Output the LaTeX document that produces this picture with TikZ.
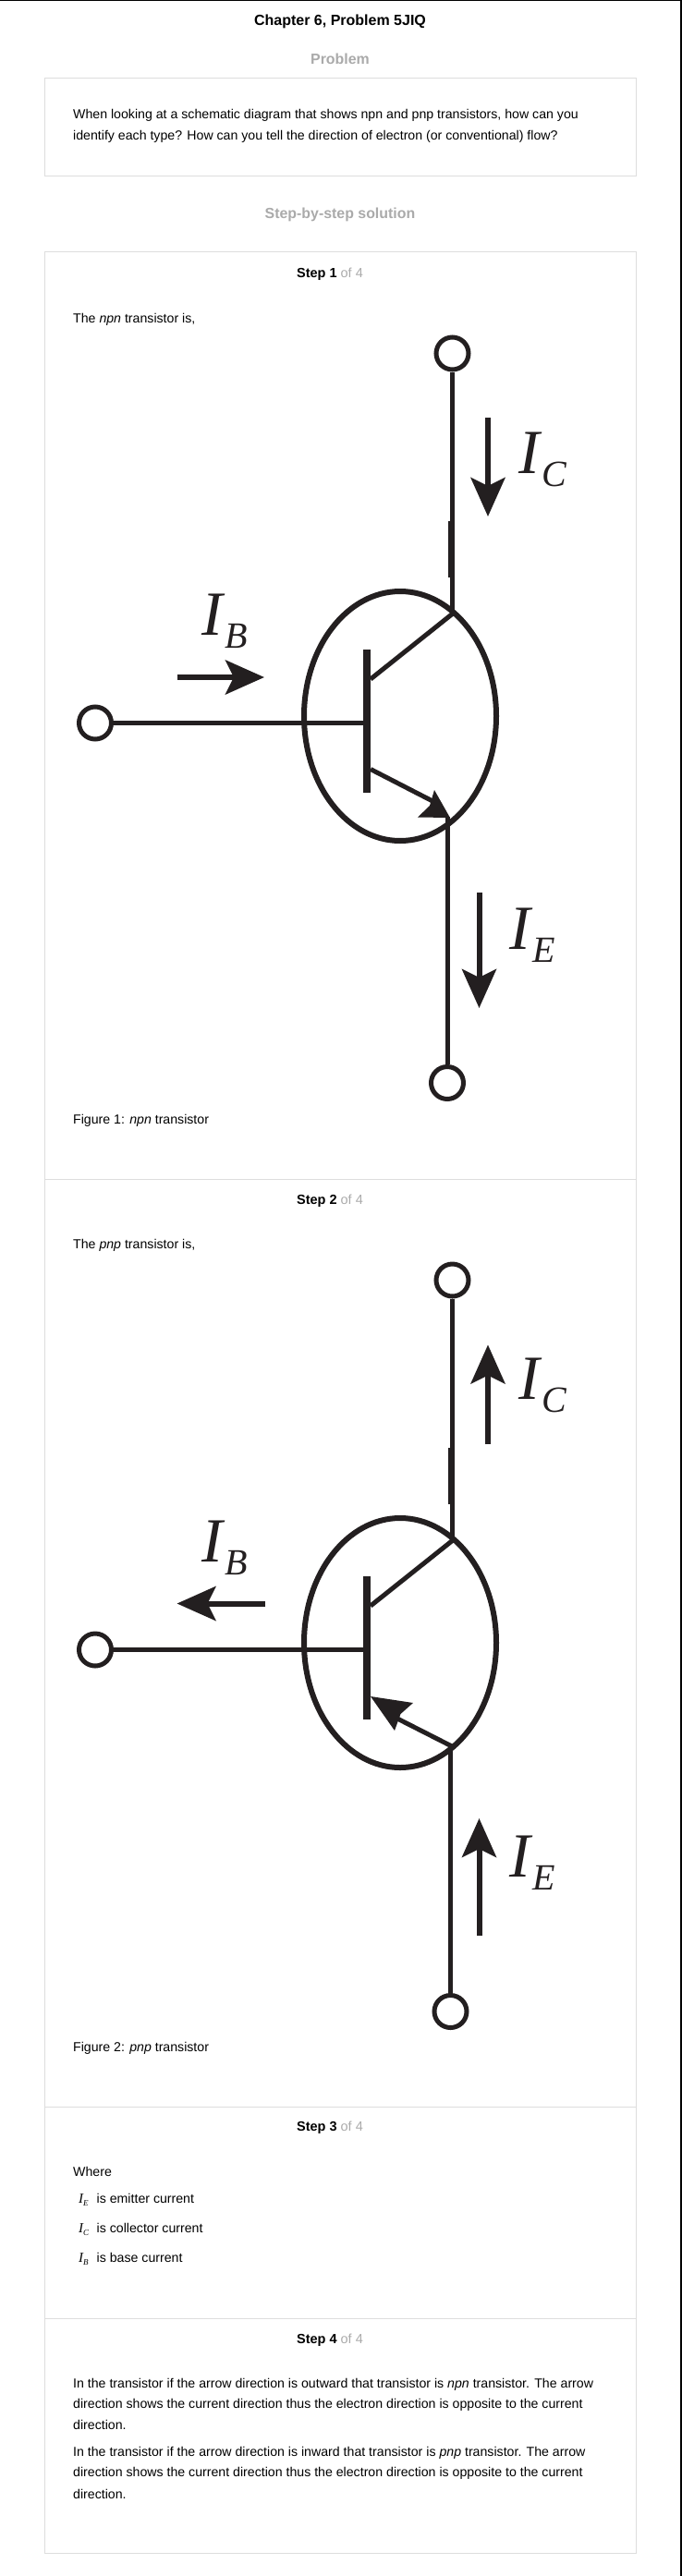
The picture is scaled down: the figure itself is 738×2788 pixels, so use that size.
\documentclass[tikz,border=0pt]{standalone}
\usepackage{fontspec}
\setmainfont{Liberation Sans}
\newfontfamily\serifcur{Liberation Serif}
\usetikzlibrary{arrows.meta}
\definecolor{wire}{HTML}{231F20}
\definecolor{rule}{HTML}{DDDDDD}
\definecolor{headgray}{HTML}{AAAAAA}
\newcommand{\bigcur}[1]{{\serifcur\itshape\fontsize{68}{68}\selectfont I\kern3pt\raisebox{-14pt}{\fontsize{40}{40}\selectfont #1}}}
\newcommand{\smallcur}[1]{{\serifcur\itshape\fontsize{15}{15}\selectfont I\raisebox{-3pt}{\fontsize{9}{9}\selectfont #1}}}
\newcommand{\stepof}[1]{\textbf{Step #1} \textcolor{headgray}{of 4}}
\tikzset{
	txt/.style={anchor=base west, inner sep=0pt, font=\fontsize{14.15}{16}\selectfont},
	stephead/.style={anchor=base, inner sep=0pt, font=\fontsize{14.5}{16}\selectfont},
	gray head/.style={anchor=base, inner sep=0pt, text=headgray, font=\bfseries\fontsize{15.9}{16}\selectfont},
	terminal/.style={circle, draw=wire, line width=5pt, fill=white, minimum size=35pt, inner sep=0pt},
	conn/.style={draw=wire, line width=5pt},
	curarrow/.style={draw=wire, line width=6pt, -{Stealth[length=42pt, width=37pt, inset=9pt, color=wire]}},
	curlabel/.style={anchor=base west, inner sep=0pt, text=wire}
}
\begin{document}
\begin{tikzpicture}[x=1pt, y=-1pt]
	\useasboundingbox (0,0) rectangle (738,2788);
	% page edge and boxes
	\draw[black, line width=1.3pt] (0,0.6) -- (738,0.6);
	\draw[black, line width=1.3pt] (737.1,0) -- (737.1,2788);
	\draw[rule, line width=1pt] (48,85) rectangle (688.5,190.5);
	\draw[rule, line width=1pt] (48,273) rectangle (688.5,2763);
	\draw[rule, line width=1pt] (48,1276) -- (688.5,1276);
	\draw[rule, line width=1pt] (48,2280) -- (688.5,2280);
	\draw[rule, line width=1pt] (48,2509.5) -- (688.5,2509.5);

	% headings
	\node[anchor=base, inner sep=0pt, font=\bfseries\fontsize{16}{16}\selectfont] (title) at (368,27.5) {Chapter 6, Problem 5JIQ};
	\node[gray head] (problem) at (368,69.5) {Problem};
	\node[txt] (q1) at (79,129) {When looking at a schematic diagram that shows npn and pnp transistors, how can you};
	\node[txt] (q2) at (79,152) {identify each type? How can you tell the direction of electron (or conventional) flow?};
	\node[gray head] (solution) at (368,236.5) {Step-by-step solution};

	% step 1
	\node[stephead] (step1) at (357,300) {\stepof{1}};
	\node[txt] (intro1) at (79,349) {The \textit{npn} transistor is,};
	\node[terminal] (c1) at (489.5,382.5) {};
	\node[terminal] (b1) at (103,782.5) {};
	\node[terminal] (e1) at (484,1172) {};
	\coordinate (cj1) at (490,664);
	\coordinate (ej1) at (484,884);
	\coordinate (bj1) at (397,782.5);
	\draw[wire, line width=6pt] (433,775) ellipse (104 and 135);
	\draw[conn] (c1) -- (489.5,664);
	\draw[wire, line width=7pt] (488.5,564) -- (488.5,625);
	\draw[conn] (b1) -- (bj1);
	\draw[conn] (e1) -- (ej1);
	\draw[wire, line width=8pt] (397,703) -- (397,858);
	\draw[conn] (401,735) -- (cj1);
	\draw[conn] (401,832.5) -- (470,868);
	\fill[wire] (487,885) -- (470,855) -- (465,872) -- (452,884.5) -- cycle;
	\draw[curarrow] (528,452) -- (528,559);
	\draw[curarrow] (191.5,733) -- (286,733);
	\draw[curarrow] (518.5,966) -- (518.5,1091);
	\node[curlabel] (ic1) at (561,512) {\bigcur{C}};
	\node[curlabel] (ib1) at (218,687) {\bigcur{B}};
	\node[curlabel] (ie1) at (551,1027) {\bigcur{E}};
	\node[txt] (fig1) at (79,1216) {Figure 1: \textit{npn} transistor};

	% step 2
	\node[stephead] (step2) at (357,1303) {\stepof{2}};
	\node[txt] (intro2) at (79,1351) {The \textit{pnp} transistor is,};
	\node[terminal] (c2) at (489.5,1385.5) {};
	\node[terminal] (b2) at (103,1785.5) {};
	\node[terminal] (e2) at (487.5,2177) {};
	\coordinate (cj2) at (490,1667);
	\coordinate (ej2) at (490,1890.5);
	\coordinate (bj2) at (397,1785.5);
	\draw[wire, line width=6pt] (433,1778) ellipse (104 and 135);
	\draw[conn] (c2) -- (489.5,1667);
	\draw[wire, line width=7pt] (488.5,1567) -- (488.5,1628);
	\draw[conn] (b2) -- (bj2);
	\draw[conn] (e2) -- (487.5,1890.5);
	\draw[wire, line width=8pt] (397,1706) -- (397,1861);
	\draw[conn] (401,1738) -- (cj2);
	\draw[conn] (ej2) -- (430,1860);
	\fill[wire] (401,1836) -- (447,1843) -- (433.5,1855) -- (427,1873) -- cycle;
	\draw[curarrow] (528,1563) -- (528,1455.5);
	\draw[curarrow] (287,1735.5) -- (191.5,1735.5);
	\draw[curarrow] (518.5,2094.5) -- (518.5,1968);
	\node[curlabel] (ic2) at (561,1514) {\bigcur{C}};
	\node[curlabel] (ib2) at (218,1690) {\bigcur{B}};
	\node[curlabel] (ie2) at (551,2031) {\bigcur{E}};
	\node[txt] (fig2) at (79,2220) {Figure 2: \textit{pnp} transistor};

	% step 3
	\node[stephead] (step3) at (357,2306.5) {\stepof{3}};
	\node[txt] (where) at (79,2355.5) {Where};
	\node[txt] (ietxt) at (85,2384.5) {\smallcur{E}};
	\node[txt] (ie3) at (104.5,2384.5) {is emitter current};
	\node[txt] (ictxt) at (85,2416.5) {\smallcur{C}};
	\node[txt] (ic3) at (104.5,2416.5) {is collector current};
	\node[txt] (ibtxt) at (85,2448) {\smallcur{B}};
	\node[txt] (ib3) at (104.5,2448) {is base current};

	% step 4
	\node[stephead] (step4) at (357,2536) {\stepof{4}};
	\node[txt] (a1) at (79,2584.5) {In the transistor if the arrow direction is outward that transistor is \textit{npn} transistor. The arrow};
	\node[txt] (a2) at (79,2606.5) {direction shows the current direction thus the electron direction is opposite to the current};
	\node[txt] (a3) at (79,2629.5) {direction.};
	\node[txt] (a4) at (79,2658.5) {In the transistor if the arrow direction is inward that transistor is \textit{pnp} transistor. The arrow};
	\node[txt] (a5) at (79,2680.5) {direction shows the current direction thus the electron direction is opposite to the current};
	\node[txt] (a6) at (79,2704) {direction.};
\end{tikzpicture}
\end{document}
